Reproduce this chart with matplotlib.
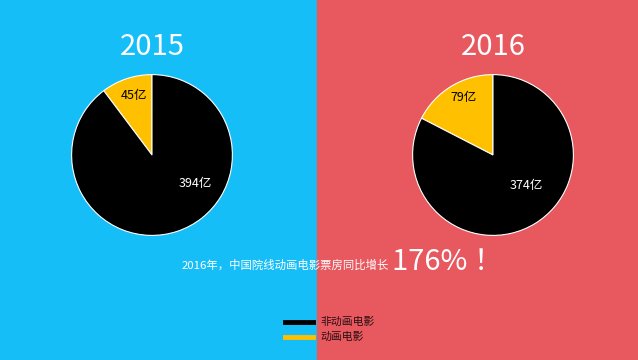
import matplotlib.pyplot as plt
from matplotlib.patches import Rectangle
from matplotlib.lines import Line2D

plt.rcParams['font.family'] = ['Noto Sans CJK SC', 'DejaVu Sans']

years = ['2015', '2016']
non_anim = [394, 374]
anim = [45, 79]
labels = ['动画电影', '非动画电影']
colors = ['#FFC000', '#000000']

fig = plt.figure(figsize=(6.38, 3.6), dpi=100)
W, H = 638, 360

# two-tone background
fig.patches.append(Rectangle((0, 0), 317 / W, 1, transform=fig.transFigure,
                             color='#16BEF8', zorder=-10))
fig.patches.append(Rectangle((317 / W, 0), 1 - 317 / W, 1, transform=fig.transFigure,
                             color='#E7585F', zorder=-10))

centers = [(152, 155), (493, 155)]
r = 82
for i in range(2):
    cx, cy = centers[i]
    ax = fig.add_axes([(cx - r) / W, (H - cy - r) / H, 2 * r / W, 2 * r / H])
    ax.pie([anim[i], non_anim[i]], colors=colors, startangle=90, counterclock=True,
           wedgeprops=dict(edgecolor='white', linewidth=0.8), radius=1)
    ax.set_xlim(-1.02, 1.02)
    ax.set_ylim(-1.02, 1.02)
    ax.set_aspect('equal')
    ax.axis('off')
    fig.text(cx / W, (H - 47) / H, years[i], color='white', fontsize=21,
             ha='center', va='center')

fig.text(134 / W, (H - 96) / H, '%d亿' % anim[0], color='black', fontsize=9, ha='center', va='center')
fig.text(195 / W, (H - 184) / H, '%d亿' % non_anim[0], color='white', fontsize=9, ha='center', va='center')
fig.text(464 / W, (H - 97) / H, '%d亿' % anim[1], color='black', fontsize=9, ha='center', va='center')
fig.text(526 / W, (H - 185) / H, '%d亿' % non_anim[1], color='white', fontsize=9, ha='center', va='center')

fig.text(389 / W, (H - 265) / H, '2016年，中国院线动画电影票房同比增长', color='white',
         fontsize=8.2, ha='right', va='center')
fig.text(392 / W, (H - 262) / H, '176% ！', color='white', fontsize=21,
         ha='left', va='center')

# legend
fig.lines.append(Line2D([285 / W, 313 / W], [(H - 322) / H] * 2, transform=fig.transFigure,
                        color='black', linewidth=3.5))
fig.lines.append(Line2D([285 / W, 313 / W], [(H - 337) / H] * 2, transform=fig.transFigure,
                        color='#FFC000', linewidth=3.5))
fig.text(320 / W, (H - 322) / H, labels[1], color='#2a1010', fontsize=7.8, va='center')
fig.text(320 / W, (H - 337) / H, labels[0], color='#2a1010', fontsize=7.8, va='center')

fig.savefig('out.png', dpi=100)
